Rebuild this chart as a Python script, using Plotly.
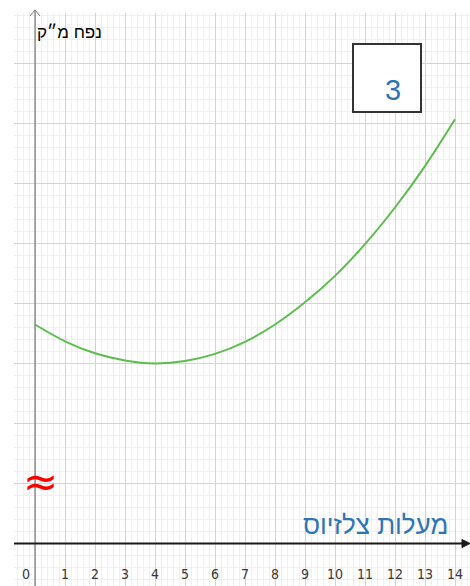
import plotly.graph_objects as go

# ---- data ----
temps = [0, 1, 2, 3, 4, 5, 6, 7, 8, 9, 10, 11, 12, 13, 14]
volume = [3.65, 3.37, 3.17, 3.05, 3.0, 3.04, 3.16, 3.36, 3.65, 4.02, 4.46, 4.99, 5.6, 6.29, 7.07]
x_tick_vals = list(range(0, 15))
x_tick_text = [str(v) for v in x_tick_vals]
y_title = "נפח מ״ק"
x_title = "מעלות צלזיוס"
box_label = "3"

W, H = 470, 586
# pixel geometry helpers (axis origin at pixel (35, 543.5); 30 px per x unit, 60 px per y unit)
X0PX, Y0PX, XS, YS = 35.0, 543.5, 30.0, 60.0
def px_x(p):
    return (p - X0PX) / XS
def px_y(p):
    return (Y0PX - p) / YS

BLUE = "#2E75B6"
HEB_FONT = "Liberation Sans, Arial, DejaVu Sans"
TICK_FONT = "Liberation Sans Narrow, DejaVu Sans Condensed, Liberation Sans"

fig = go.Figure()
fig.add_trace(go.Scatter(
    x=temps, y=volume, mode="lines",
    line=dict(color="#5CBD4E", width=2, shape="spline", smoothing=1.0),
    hoverinfo="skip", showlegend=False,
))

shapes = []
# masks to end the grid like the reference (left strip and top strip)
shapes.append(dict(type="rect", layer="above", xref="x", yref="y",
                   x0=px_x(-5), x1=px_x(14), y0=px_y(H + 5), y1=px_y(-5),
                   fillcolor="white", line=dict(width=0)))
shapes.append(dict(type="rect", layer="above", xref="x", yref="y",
                   x0=px_x(-5), x1=px_x(W + 5), y0=px_y(13), y1=px_y(-5),
                   fillcolor="white", line=dict(width=0)))
# y axis line (thin gray) with open chevron
shapes.append(dict(type="line", layer="above", xref="x", yref="y",
                   x0=0, x1=0, y0=px_y(590), y1=px_y(10),
                   line=dict(color="#7a7a7a", width=1.2)))
shapes.append(dict(type="path", layer="above", xref="x", yref="y",
                   xsizemode="pixel", ysizemode="pixel",
                   xanchor=0, yanchor=px_y(10),
                   path="M -5 -6 L 0 0 L 5 -6",
                   line=dict(color="#7a7a7a", width=1)))
# x axis line (thick black) with filled arrowhead
shapes.append(dict(type="line", layer="above", xref="x", yref="y",
                   x0=px_x(14), x1=px_x(464), y0=0, y1=0,
                   line=dict(color="#1a1a1a", width=2)))
shapes.append(dict(type="path", layer="above", xref="x", yref="y",
                   xsizemode="pixel", ysizemode="pixel",
                   xanchor=px_x(470), yanchor=0,
                   path="M 0 0 L -8 4 L -8 -4 Z",
                   fillcolor="#1a1a1a", line=dict(color="#1a1a1a", width=1)))
# box with number
shapes.append(dict(type="rect", layer="above", xref="x", yref="y",
                   x0=px_x(353), x1=px_x(421), y0=px_y(112), y1=px_y(44),
                   fillcolor="white", line=dict(color="#333333", width=2)))

annotations = []
annotations.append(dict(x=px_x(393), y=px_y(90), text=box_label, showarrow=False,
                        xanchor="center", yanchor="middle",
                        font=dict(family=HEB_FONT, size=29, color=BLUE)))
annotations.append(dict(x=px_x(35), y=px_y(32), text=y_title, showarrow=False,
                        xanchor="left", yanchor="middle",
                        font=dict(family=HEB_FONT, size=17, color="#000000")))
annotations.append(dict(x=px_x(450), y=px_y(525), text=x_title, showarrow=False,
                        xanchor="right", yanchor="middle",
                        font=dict(family=HEB_FONT, size=26, color=BLUE)))
annotations.append(dict(x=px_x(40), y=px_y(481), text="≈", showarrow=False,
                        xanchor="center", yanchor="middle",
                        font=dict(family="DejaVu Sans", size=42, color="#ff0000")))
for v, t in zip(x_tick_vals, x_tick_text):
    annotations.append(dict(x=v, y=px_y(573.5), text=t, showarrow=False,
                            xanchor="center", yanchor="middle",
                            xshift=-9 if v == 0 else 0,
                            font=dict(family=TICK_FONT, size=14, color="#383838")))

fig.update_layout(
    width=W, height=H,
    margin=dict(l=0, r=0, t=0, b=0, pad=0),
    paper_bgcolor="white", plot_bgcolor="white",
    showlegend=False,
    shapes=shapes, annotations=annotations,
    xaxis=dict(range=[px_x(0), px_x(W)], tick0=0, dtick=1,
               showgrid=True, gridcolor="#d4d4d4", gridwidth=1,
               minor=dict(tick0=0, dtick=0.2, showgrid=True, gridcolor="#f0f0f0", gridwidth=1),
               showticklabels=False, ticks="", zeroline=False, showline=False, fixedrange=True),
    yaxis=dict(range=[px_y(H), px_y(0)], tick0=0, dtick=1,
               showgrid=True, gridcolor="#d4d4d4", gridwidth=1,
               minor=dict(tick0=0, dtick=0.2, showgrid=True, gridcolor="#f0f0f0", gridwidth=1),
               showticklabels=False, ticks="", zeroline=False, showline=False, fixedrange=True),
)

fig.write_html("out.html", config={"displayModeBar": False},
               post_script="document.body.style.margin='0';document.body.style.padding='0';document.body.style.overflow='hidden';")
